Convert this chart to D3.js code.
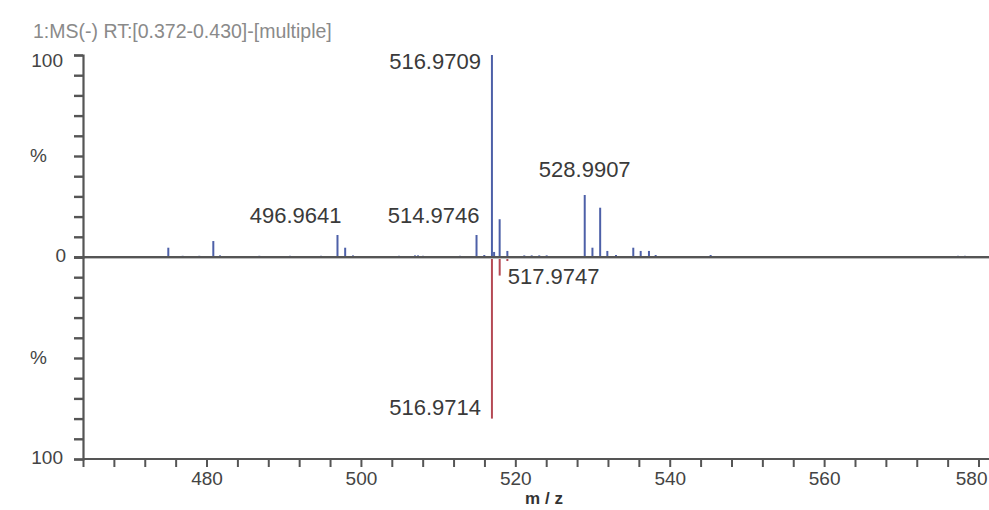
<!DOCTYPE html>
<html>
<head>
<meta charset="utf-8">
<script src="https://cdn.jsdelivr.net/npm/d3@7"></script>
<style>
  html, body { margin: 0; padding: 0; background: #fff; }
  svg { display: block; font-family: "Liberation Sans", Arial, Helvetica, sans-serif; }
</style>
</head>
<body>
<svg id="chart" width="989" height="510"></svg>
<script>
// ---- data ----
const title = "1:MS(-) RT:[0.372-0.430]-[multiple]";
const xLabel = "m / z";
const yLabel = "%";
const xTickLabels = [480, 500, 520, 540, 560, 580];
const yTickLabels = [0, 100];

// upper spectrum (blue)
const topMz  = [475.05, 476.91, 479.06, 480.88, 481.75, 486.84, 490.81, 494.83, 496.9641, 497.96, 498.97,
                504.93, 507.0, 507.4, 508.04, 512.83, 514.9746, 515.98, 516.9709, 517.25, 517.97, 518.97,
                521.16, 522.12, 523.1, 524.06, 528.9907, 529.99, 530.99, 531.92, 533.04, 535.28, 536.24,
                537.31, 538.18, 545.3, 577.34, 578.24];
const topInt = [4.6, 0.6, 0.6, 7.9, 0.8, 0.6, 0.6, 0.6, 10.9, 4.6, 0.8,
                0.6, 0.8, 0.8, 0.6, 0.6, 10.9, 1.0, 100, 2.5, 18.7, 3.0,
                0.8, 0.8, 0.8, 0.8, 30.7, 4.6, 24.4, 3.0, 1.0, 4.6, 3.0,
                3.0, 1.0, 1.0, 0.6, 0.6];
// lower spectrum (red, mirrored)
const botMz  = [516.9714, 517.9747, 518.97];
const botInt = [80, 9.2, 2.0];

const topLabels = ["516.9709", "528.9907", "496.9641", "514.9746"];
const botLabels = ["516.9714", "517.9747"];

// ---- layout ----
const svg = d3.select("#chart");
const W = 989, H = 510;
const x0 = 83, yZero = 257, yTop = 55, yBot = 459;
const blue = "#4d60a8", red = "#b54a55", axisCol = "#555", textCol = "#444";

const x = d3.scaleLinear().domain([464, 582]).range([x0, x0 + 118 * 7.72]);
const yP = d3.scaleLinear().domain([0, 100]).range([yZero, yTop]);
const yN = d3.scaleLinear().domain([0, 100]).range([yZero, yBot]);

// title
svg.append("text").attr("x", 33).attr("y", 38)
  .attr("font-size", 19.5).attr("fill", "#8a8a8a").text(title);

// peaks
const topData = topMz.map((m, i) => ({ mz: m, v: topInt[i] }));
const botData = botMz.map((m, i) => ({ mz: m, v: botInt[i] }));

svg.append("g").selectAll("line").data(topData).join("line")
  .attr("x1", d => x(d.mz)).attr("x2", d => x(d.mz))
  .attr("y1", yZero).attr("y2", d => yP(d.v))
  .attr("stroke", blue).attr("stroke-width", 2);

svg.append("g").selectAll("line").data(botData).join("line")
  .attr("x1", d => x(d.mz)).attr("x2", d => x(d.mz))
  .attr("y1", yZero).attr("y2", d => yN(d.v))
  .attr("stroke", red).attr("stroke-width", 2);

// zero baseline
svg.append("line").attr("x1", x0).attr("x2", W).attr("y1", yZero + 1.5).attr("y2", yZero + 1.5)
  .attr("stroke", "#bbb").attr("stroke-width", 1);
svg.append("line").attr("x1", x0).attr("x2", W).attr("y1", yZero).attr("y2", yZero)
  .attr("stroke", axisCol).attr("stroke-width", 2);

// y axes (upper and lower)
const yAxisTop = d3.axisLeft(yP).tickValues(d3.range(0, 101, 10)).tickSize(9).tickFormat("");
const yAxisBot = d3.axisLeft(yN).tickValues(d3.range(0, 101, 10)).tickSize(9).tickFormat("");
[yAxisTop, yAxisBot].forEach(ax => {
  const g = svg.append("g").attr("transform", `translate(${x0},0)`).call(ax);
  g.select(".domain").attr("stroke", axisCol).attr("stroke-width", 2.2);
  g.selectAll(".tick line").attr("stroke", axisCol).attr("stroke-width", 2.4);
});

// y labels
const yLab = svg.append("g").attr("font-size", 19).attr("fill", textCol).attr("text-anchor", "end");
yLab.append("text").attr("x", 63).attr("y", yP(100) + 7).attr("dominant-baseline", "middle").text(yTickLabels[1]);
yLab.append("text").attr("x", 66).attr("y", yP(0)).attr("dominant-baseline", "middle").text(yTickLabels[0]);
yLab.append("text").attr("x", 63).attr("y", yN(100)).attr("dominant-baseline", "middle").text(yTickLabels[1]);
yLab.append("text").attr("x", 47).attr("y", yP(50) + 1).attr("dominant-baseline", "middle").text(yLabel);
yLab.append("text").attr("x", 47).attr("y", yN(50) + 1).attr("dominant-baseline", "middle").text(yLabel);

// x axis
const xAxis = d3.axisBottom(x).tickValues(d3.range(464, 583, 4)).tickSize(8)
  .tickFormat(d => xTickLabels.includes(d) ? d : "");
const gx = svg.append("g").attr("transform", `translate(0,${yBot})`).call(xAxis);
gx.select(".domain").attr("stroke", axisCol).attr("stroke-width", 2.2).attr("d", `M${x0},0H${W + 10}`);
gx.selectAll(".tick line").attr("stroke", axisCol).attr("stroke-width", 2);
gx.selectAll(".tick text").attr("font-size", 19).attr("fill", textCol)
  .attr("font-family", "Liberation Sans, Arial, sans-serif").attr("dy", "0.8em")
  .filter(d => x(d) + 18 > W).attr("text-anchor", "end").attr("dx", W - 2 - x(xTickLabels[xTickLabels.length - 1]));

svg.append("text").attr("x", 544).attr("y", 504).attr("text-anchor", "middle")
  .attr("font-size", 17).attr("font-weight", "bold").attr("fill", "#333").text(xLabel);

// peak annotations
const labG = svg.append("g").attr("font-size", 22).attr("fill", "#3a3a3a").attr("dominant-baseline", "middle");
const findTop = s => topData.find(d => d.mz === +s);
const findBot = s => botData.find(d => d.mz === +s);
const placeTop = {
  "516.9709": { anchor: "end", dx: -11, dy: 8 },
  "528.9907": { anchor: "middle", dx: 0, dy: -24 },
  "496.9641": { anchor: "end", dx: 4, dy: -18 },
  "514.9746": { anchor: "end", dx: 3, dy: -18 }
};
const placeBot = {
  "516.9714": { anchor: "end", dx: -11, dy: -9 },
  "517.9747": { anchor: "start", dx: 8, dy: 3 }
};
topLabels.forEach(s => {
  const d = findTop(s), p = placeTop[s];
  labG.append("text").attr("x", x(d.mz) + p.dx).attr("y", yP(d.v) + p.dy)
    .attr("text-anchor", p.anchor).text(s);
});
botLabels.forEach(s => {
  const d = findBot(s), p = placeBot[s];
  labG.append("text").attr("x", x(d.mz) + p.dx).attr("y", yN(d.v) + p.dy)
    .attr("text-anchor", p.anchor).text(s);
});
</script>
</body>
</html>
